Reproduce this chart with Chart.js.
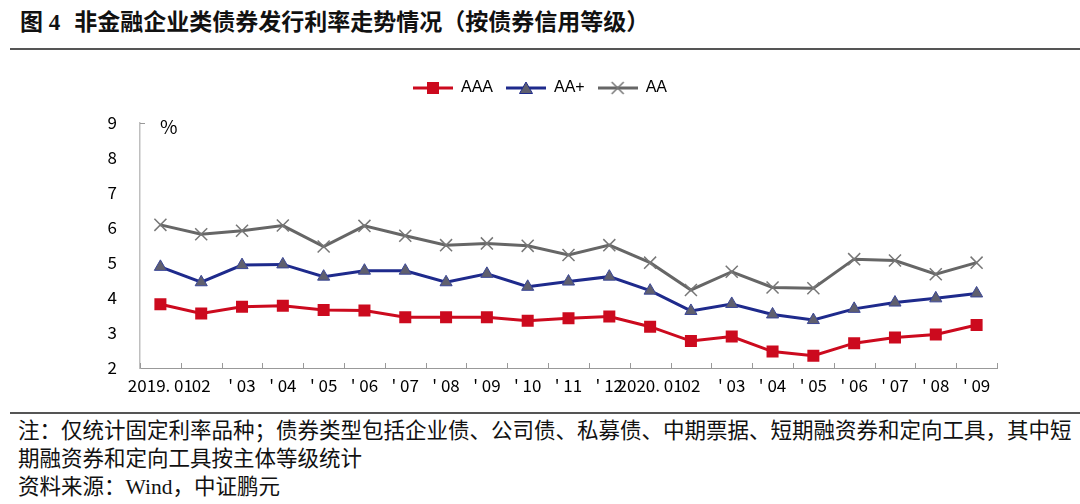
<!DOCTYPE html>
<html>
<head>
<meta charset="utf-8">
<script src="https://cdn.jsdelivr.net/npm/chart.js@4/dist/chart.umd.min.js"></script>
<style>
  html, body { margin: 0; padding: 0; background: #fff; }
  body { width: 1080px; height: 504px; position: relative; overflow: hidden; }
  .title {
    position: absolute; left: 20px; top: 3px;
    font-family: "Liberation Serif", "Noto Sans CJK SC", serif;
    font-weight: bold; font-size: 23px; color: #111; white-space: nowrap;
  }
  .title span { margin-right: 14px; }
  .rule { position: absolute; left: 10px; right: 0; height: 2px; background: #555; }
  .chart-box { position: absolute; left: 0; top: 50px; width: 1080px; height: 360px; }
  .notes {
    position: absolute; left: 18px; top: 417px; width: 1062px;
    font-family: "Liberation Serif", "Noto Sans CJK SC", serif;
    font-size: 21.5px; line-height: 28px; color: #111; white-space: nowrap;
  }
</style>
</head>
<body>
<div class="title"><span>图 4</span>非金融企业类债券发行利率走势情况（按债券信用等级）</div>
<div class="rule" style="top:48px"></div>
<div class="chart-box"><canvas id="rateChart"></canvas></div>
<div class="rule" style="top:412px"></div>
<div class="notes">注：仅统计固定利率品种；债券类型包括企业债、公司债、私募债、中期票据、短期融资券和定向工具，其中短<br>期融资券和定向工具按主体等级统计<br>资料来源：Wind，中证鹏元</div>
<script>
// 月份标签
const months = ["2019. 01", "02", "' 03", "' 04", "' 05", "' 06", "' 07", "' 08", "' 09", "' 10", "' 11", "' 12",
                "2020. 01", "02", "' 03", "' 04", "' 05", "' 06", "' 07", "' 08", "' 09"];

// 发行利率（%）
const aaa = [3.82, 3.56, 3.75, 3.78, 3.66, 3.64, 3.45, 3.45, 3.45, 3.35, 3.42, 3.47,
             3.18, 2.77, 2.90, 2.47, 2.35, 2.71, 2.87, 2.96, 3.23];
const aaPlus = [4.89, 4.45, 4.94, 4.96, 4.61, 4.78, 4.78, 4.45, 4.69, 4.32, 4.47, 4.61,
                4.21, 3.63, 3.83, 3.53, 3.37, 3.69, 3.87, 3.99, 4.13];
const aa = [6.09, 5.82, 5.92, 6.07, 5.47, 6.06, 5.78, 5.51, 5.56, 5.49, 5.23, 5.51,
            5.01, 4.23, 4.75, 4.30, 4.28, 5.11, 5.07, 4.68, 5.01];

const yTicks = [2, 3, 4, 5, 6, 7, 8, 9];

const RED = '#cc0a1e', NAVY = '#1e2a8c', GREY = '#666666';
const tickFont = { family: "'Noto Sans CJK SC', 'Noto Sans', sans-serif", size: 17 };

// 图例小图标：线 + 标记
function legendIcon(color, draw) {
    const c = document.createElement('canvas');
    c.width = 40; c.height = 16;
    const g = c.getContext('2d');
    g.strokeStyle = color; g.lineWidth = 3;
    g.beginPath(); g.moveTo(0, 8); g.lineTo(40, 8); g.stroke();
    draw(g);
    return c;
}
const iconAAA = legendIcon(RED, g => { g.fillStyle = RED; g.fillRect(14, 2, 12, 12); });
const iconAAp = legendIcon(NAVY, g => {
    g.fillStyle = '#5f5f6e'; g.strokeStyle = NAVY; g.lineWidth = 1;
    g.beginPath(); g.moveTo(20, 2); g.lineTo(26.5, 13.5); g.lineTo(13.5, 13.5); g.closePath();
    g.fill(); g.stroke();
});
const iconAA = legendIcon(GREY, g => {
    g.strokeStyle = '#777'; g.lineWidth = 1.5;
    g.beginPath(); g.moveTo(14, 2); g.lineTo(26, 14); g.moveTo(26, 2); g.lineTo(14, 14); g.stroke();
});

// 图例高度固定，给绘图区留出位置
const legendSpace = {
    id: 'legendSpace',
    beforeInit(chart) {
        const fit = chart.legend.fit;
        chart.legend.fit = function() {
            fit.call(this);
            this.height = 56;
        };
    }
};

// 横轴刻度朝内 + 左上角的 %
const axisExtras = {
    id: 'axisExtras',
    afterDraw(chart) {
        const ctx = chart.ctx;
        const x = chart.scales.x, y = chart.scales.y;
        ctx.save();
        ctx.strokeStyle = '#999'; ctx.lineWidth = 1;
        ctx.beginPath();
        for (let i = 0; i <= months.length; i++) {
            const px = Math.round(x.getPixelForValue(i - 0.5)) + 0.5;
            ctx.moveTo(px, y.bottom); ctx.lineTo(px, y.bottom - 5);
        }
        ctx.moveTo(y.right, y.top + 0.5); ctx.lineTo(y.right + 5, y.top + 0.5);
        ctx.stroke();
        ctx.fillStyle = '#000';
        ctx.font = "19px 'Noto Sans CJK SC', sans-serif";
        ctx.textBaseline = 'middle';
        ctx.fillText('%', y.right + 20, y.top + 4);
        ctx.restore();
    }
};

new Chart(document.getElementById('rateChart'), {
    type: 'line',
    data: {
        labels: months,
        datasets: [
            { label: 'AAA', data: aaa, borderColor: RED, backgroundColor: RED, borderWidth: 3,
              pointStyle: 'rect', pointRadius: 8.5, pointBackgroundColor: RED, pointBorderColor: RED, pointBorderWidth: 0 },
            { label: 'AA+', data: aaPlus, borderColor: NAVY, backgroundColor: '#5f5f6e', borderWidth: 3,
              pointStyle: 'triangle', pointRadius: 7, pointBackgroundColor: '#5f5f6e', pointBorderColor: '#3a4696', pointBorderWidth: 1 },
            { label: 'AA', data: aa, borderColor: GREY, backgroundColor: GREY, borderWidth: 3,
              pointStyle: 'crossRot', pointRadius: 8.5, pointBorderColor: '#777', pointBorderWidth: 1.5 }
        ]
    },
    options: {
        responsive: true,
        maintainAspectRatio: false,
        animation: false,
        layout: { padding: { top: 17, right: 0, left: 0, bottom: 0 } },
        plugins: {
            tooltip: { enabled: false },
            legend: {
                position: 'top',
                labels: {
                    usePointStyle: true,
                    pointStyleWidth: 40,
                    boxHeight: 16,
                    padding: 13,
                    color: '#000',
                    font: { family: "'Liberation Sans', Arial, sans-serif", size: 16 },
                    generateLabels(chart) {
                        const icons = [iconAAA, iconAAp, iconAA];
                        return chart.data.datasets.map((ds, i) => ({
                            text: ds.label, pointStyle: icons[i], datasetIndex: i,
                            fillStyle: ds.borderColor, strokeStyle: ds.borderColor, lineWidth: 0, hidden: false
                        }));
                    }
                }
            }
        },
        scales: {
            x: {
                offset: true,
                grid: { display: false, drawTicks: false },
                border: { color: '#999', width: 1 },
                ticks: { color: '#000', font: tickFont, padding: 7, autoSkip: false, maxRotation: 0 },
                afterFit(scale) { scale.height = 42; }
            },
            y: {
                min: 2, max: 9,
                afterBuildTicks(scale) { scale.ticks = yTicks.map(v => ({ value: v })); },
                grid: { display: false, drawTicks: false },
                border: { color: '#bfbfbf', width: 1.5 },
                ticks: { color: '#000', font: tickFont, padding: 23 },
                afterFit(scale) { scale.width = 140; }
            },
            // 右侧留白
            spacer: {
                position: 'right',
                display: true,
                grid: { display: false, drawTicks: false },
                border: { display: false },
                ticks: { display: false },
                afterFit(scale) { scale.width = 83; }
            }
        }
    },
    plugins: [legendSpace, axisExtras]
});
</script>
</body>
</html>
